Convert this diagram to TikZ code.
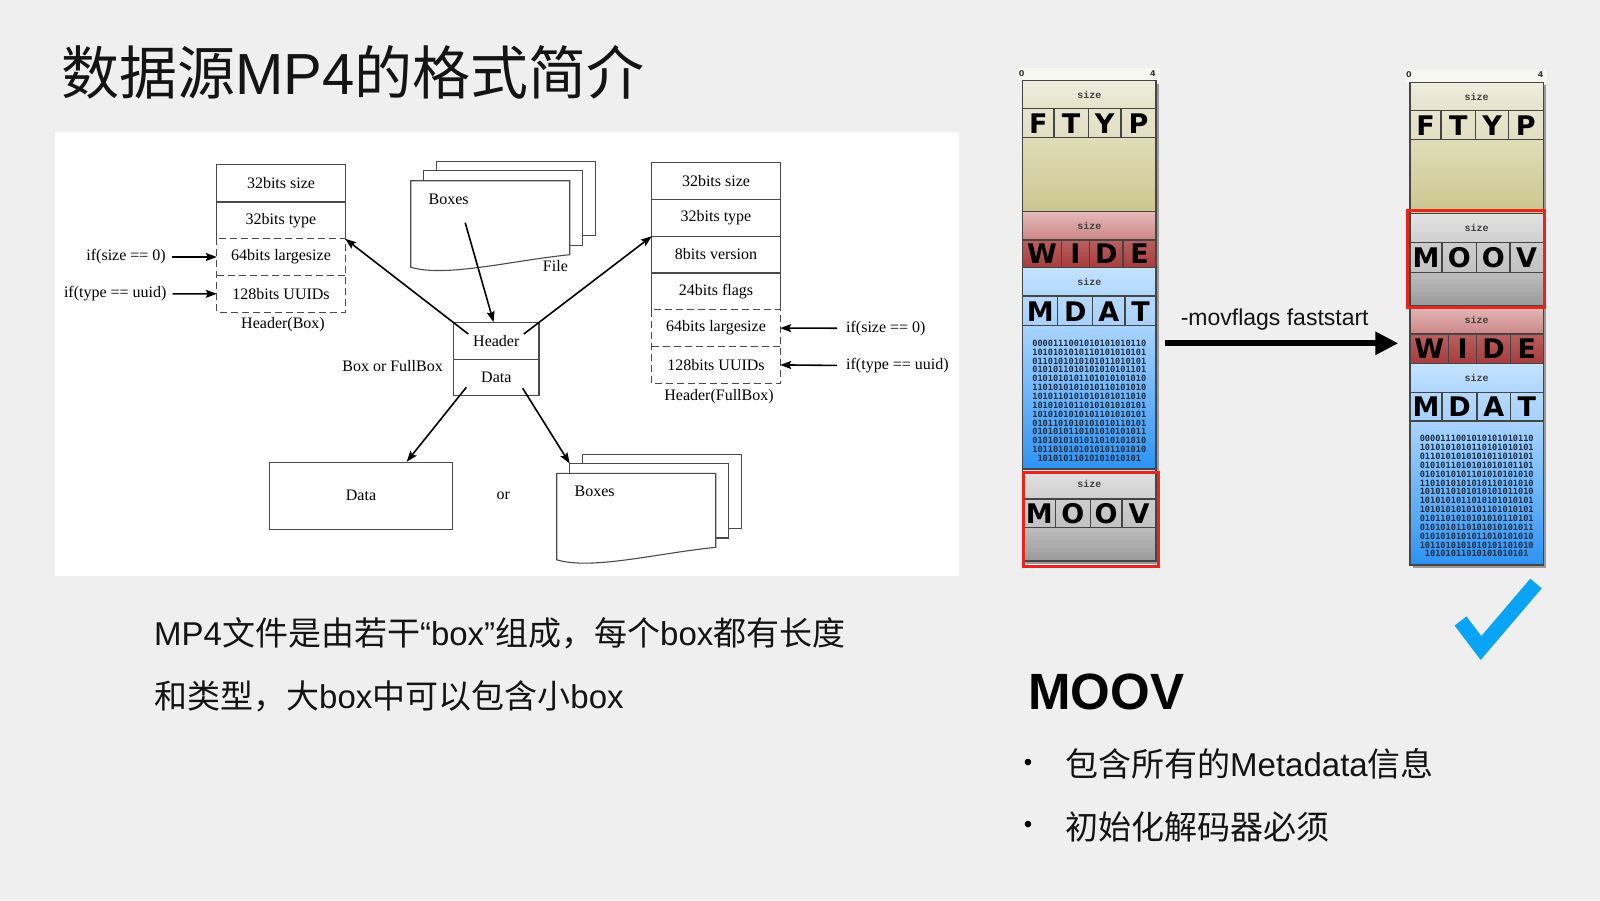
\documentclass[tikz,border=0pt]{standalone}
\usepackage{fontspec}
\setmainfont{Liberation Sans}
\newfontfamily\cjk{Noto Sans CJK SC}
\newfontfamily\dgserif{Liberation Serif}
\newfontfamily\cellfont{DejaVu Sans}
\newfontfamily\sizefont{Liberation Mono}
\newfontfamily\bitfont{DejaVu Sans Mono}
\usetikzlibrary{arrows.meta,calc}

\definecolor{slidebg}{HTML}{EFEFEF}
\definecolor{inkline}{HTML}{4A4A4A}
\definecolor{framegray}{HTML}{454545}
\definecolor{shadowgray}{HTML}{9A9A9A}
\definecolor{stripwhite}{HTML}{F7F7F2}
\definecolor{redmark}{HTML}{E8261C}
\definecolor{tickblue}{HTML}{0AA4F6}
\definecolor{bitink}{HTML}{1B2A3E}
% block colour schemes: size row top/bottom, letter row, body top/bottom
\definecolor{ftypa}{HTML}{EFEEDF}\definecolor{ftypb}{HTML}{E4E2C9}
\definecolor{ftypc}{HTML}{E2DFC3}\definecolor{ftypd}{HTML}{E0DDB9}
\definecolor{ftype}{HTML}{CBC68F}
\definecolor{widea}{HTML}{E6B9B9}\definecolor{wideb}{HTML}{CC8686}
\definecolor{widec}{HTML}{A83C3C}\definecolor{wided}{HTML}{A83C3C}
\definecolor{widee}{HTML}{A83C3C}
\definecolor{mdata}{HTML}{C4E3FF}\definecolor{mdatb}{HTML}{B0D7FF}
\definecolor{mdatc}{HTML}{A6D1FC}\definecolor{mdatd}{HTML}{A9D4FF}
\definecolor{mdate}{HTML}{2C93F4}
\definecolor{moova}{HTML}{E2E2E2}\definecolor{moovb}{HTML}{CFCFCF}
\definecolor{moovc}{HTML}{C2C2C2}\definecolor{moovd}{HTML}{BDBDBD}
\definecolor{moove}{HTML}{9A9A9A}

\newcommand\pxsize[1]{\fontsize{#1}{#1}\selectfont}
\newcommand\zh[1]{{\cjk #1}}

\newcommand\mdatbits{0000111001010101010110\\1010101010110101010101\\
0110101010101011010101\\0101011010101010101101\\0101010101101010101010\\
1101010101010110101010\\1010110101010101011010\\1010101011010101010101\\
1010101010101101010101\\0101101010101010110101\\0101010110101010101011\\
0101010101011010101010\\1011010101010101101010\\10101011010101010101}

\tikzset{
  dgtext/.style={font=\dgserif\pxsize{16}, text=black, inner sep=0pt},
  hcell/.style={dgtext, minimum width=128pt, minimum height=36.8pt},
  hdcell/.style={dgtext, draw=inkline, line width=1.1pt, minimum width=85.4pt, minimum height=36.5pt},
  boxline/.style={draw=inkline, line width=1.1pt},
  arr/.style={draw=black, line width=1.6pt, -{Stealth[length=11pt,width=8pt,inset=2pt]}},
  sizetag/.style={font=\sizefont\bfseries\pxsize{10}, text=black!75, inner sep=0pt},
  lettercell/.style={font=\cellfont\bfseries\pxsize{27}, text=black, inner sep=0pt},
  bittext/.style={font=\bitfont\bfseries\fontsize{8.6}{8.85}\selectfont, text=bitink, align=center, inner sep=0pt},
  ruler/.style={font=\cellfont\bfseries\pxsize{8}, text=black!80, inner sep=0pt},
  slidetext/.style={font=\pxsize{33}, text=black!92, inner sep=0pt, anchor=west},
  blockedge/.style={draw=framegray, line width=1.2pt},
}

% one stack of pages: front page with a wavy lower edge and two pages behind it
\newcommand\pagestack[3]{%
  \begin{scope}[shift={(#1,#2)}]
    \draw[boxline, fill=white] (25.5,-19) rectangle ++(159.5,74);
    \draw[boxline, fill=white] (13,-9.8) rectangle ++(159,74.5);
    \coordinate (#3-mid) at (13,-9.8);
    \draw[boxline, fill=white] (0,0) -- (159,0) -- (159,74)
      .. controls (100,80) and (35,97) .. (0,86.5) -- cycle;
    \node[dgtext] (#3) at (38,18.5) {Boxes};
  \end{scope}}

% one box of the file layout: size row, four letter cells, optional body
% #1 name, #2 left x, #3 top, #4 size row bottom, #5 letter row bottom,
% #6 block bottom, #7 colour scheme, #8 cells as from/to/letter
\newcommand\mpblock[8]{%
  \begin{scope}[shift={(#2,0)}]
    \path[blockedge, top color=#7a, bottom color=#7b] (0,#3) rectangle (133.3,#4);
    \node[sizetag] (#1-size) at (66.65,{(#3+#4)/2}) {size};
    \foreach \a/\b/\l [count=\i] in {#8}{
      \path[blockedge, top color=#7c!82!white, bottom color=#7c] (\a*133.3,#4) rectangle (\b*133.3,#5);
      \node[lettercell] (#1-\i) at ({(\a+\b)*66.65},{(#4+#5)/2+0.5}) {\l};
    }
    \ifdim #6pt>#5pt
      \path[blockedge, top color=#7d, bottom color=#7e] (0,#5) rectangle (133.3,#6);
    \fi
  \end{scope}}

\begin{document}
\begin{tikzpicture}[x=1pt,y=-1pt]
\useasboundingbox (0,0) rectangle (1600,900);
\fill[slidebg] (0,0) rectangle (1600,900);

% title
\node[anchor=west, inner sep=0pt, font=\pxsize{58}, text=black!92] (title) at (61,72.5)
  {\zh{数据源}MP4\zh{的格式简介}};

% ---------- box structure diagram ----------
\fill[white] (55,132) rectangle (959,576);

% Header(Box)
\node[hcell] (lb1) at (281,183.4) {32bits size};
\node[hcell] (lb2) at (281,220.2) {32bits type};
\node[hcell] (lb3) at (281,257.0) {64bits largesize};
\node[hcell] (lb4) at (281,293.8) {128bits UUIDs};
\draw[boxline] (lb2.south west) |- (lb1.north east) -- (lb2.south east);
\draw[boxline] (lb1.south west) -- (lb1.south east);
\draw[boxline, dash pattern=on 7pt off 4pt] (lb3.north west) rectangle (lb4.south east);
\draw[boxline, dash pattern=on 7pt off 4pt] (lb3.south west) -- (lb3.south east);
\node[dgtext] (hbcap) at (283,325) {Header(Box)};

\node[dgtext, anchor=east] (ifszL) at (166,257) {if(size == 0)};
\node[dgtext, anchor=east] (iftyL) at (166.7,294) {if(type == uuid)};
\draw[arr, shorten <=6pt] (ifszL) -- (lb3.west);
\draw[arr, shorten <=6pt] (iftyL) -- (lb4.west);

% Header(FullBox)
\node[hcell] (rb1) at (716,180.7) {32bits size};
\node[hcell] (rb2) at (716,217.6) {32bits type};
\node[hcell] (rb3) at (716,254.4) {8bits version};
\node[hcell] (rb4) at (716,291.2) {24bits flags};
\node[hcell] (rb5) at (716,328.1) {64bits largesize};
\node[hcell] (rb6) at (716,364.9) {128bits UUIDs};
\draw[boxline] (rb4.south west) |- (rb1.north east) -- (rb4.south east);
\draw[boxline] (rb1.south west) -- (rb1.south east);
\draw[boxline] (rb2.south west) -- (rb2.south east);
\draw[boxline] (rb3.south west) -- (rb3.south east);
\draw[boxline, dash pattern=on 7pt off 4pt] (rb5.north west) rectangle (rb6.south east);
\draw[boxline, dash pattern=on 7pt off 4pt] (rb5.south west) -- (rb5.south east);
\node[dgtext] (hfcap) at (719,397) {Header(FullBox)};

\node[dgtext, anchor=west] (ifszR) at (846,328.3) {if(size == 0)};
\node[dgtext, anchor=west] (iftyR) at (846,366) {if(type == uuid)};
\draw[arr, shorten <=9pt] (ifszR) -- (rb5.east);
\draw[arr, shorten <=9pt] (iftyR) -- (rb6.east);

% file made of boxes
\pagestack{410.7}{180.7}{stackA}
\node[dgtext] (filecap) at (555.4,266) {File};

% a box: header and data
\node[hdcell] (hd1) at (496.3,341) {Header};
\node[hdcell] (hd2) at (496.3,377.5) {Data};
\node[dgtext, anchor=east] (boxcap) at (443,366) {Box or FullBox};

% its data is plain data or further boxes
\node[dgtext, boxline, minimum width=183.4pt, minimum height=67pt] (dbox) at (361,495.8) {Data};
\node[dgtext] (orlbl) at (503.3,496) {or};
\pagestack{556.7}{473.3}{stackB}

\coordinate (fileout) at (465.2,222.7);
\coordinate (hdleft) at (468.3,334);
\coordinate (hdright) at (523.8,334);
\coordinate (dleft) at (466.3,387.3);
\coordinate (dright) at (522.7,388.3);
\draw[arr] (fileout) -- ($(hd1.north)+(-2.7,0)$);
\draw[arr] (hdleft) -- (lb2.south east);
\draw[arr] (hdright) -- (rb2.south west);
\draw[arr] (dleft) -- ($(dbox.north)+(45.7,0)$);
\draw[arr] (dright) -- (stackB-mid);

% ---------- file layout before ----------
\fill[stripwhite] (1018,68) rectangle (1160,81);
\node[ruler] (rulL0) at (1021.7,73.7) {0};
\node[ruler] (rulL4) at (1153,73.7) {4};
\fill[shadowgray] (1025.7,83.7) rectangle (1159,564);
\mpblock{ftypL}{1022.7}{80.7}{108.3}{137.3}{211.7}{ftyp}{0/.235/F,.235/.492/T,.492/.737/Y,.737/1/P}
\mpblock{wideL}{1022.7}{211.7}{240}{267.3}{267.3}{wide}{0/.288/W,.288/.503/I,.503/.752/D,.752/1/E}
\mpblock{mdatL}{1022.7}{267.3}{296}{325.7}{469}{mdat}{0/.263/M,.263/.525/D,.525/.767/A,.767/1/T}
\node[bittext] (bitsL) at (1089.3,400.8) {\mdatbits};
\mpblock{moovL}{1022.7}{469}{499}{527.7}{561}{moov}{0/.248/M,.248/.506/O,.506/.745/O,.745/1/V}
\draw[redmark, line width=3pt] (1023.3,472) rectangle (1158.3,566.3);

% ---------- faststart ----------
\node[font=\pxsize{23}, text=black!92, inner sep=0pt] (flaglbl) at (1274.7,320) {-movflags faststart};
\coordinate (flowA) at (1165,343.3);
\coordinate (flowB) at (1398.3,343.3);
\draw[line width=6pt, -{Triangle[length=23pt,width=22pt]}] (flowA) -- (flowB);

% ---------- file layout after ----------
\fill[stripwhite] (1405,70) rectangle (1547,83);
\node[ruler] (rulR0) at (1409,75) {0};
\node[ruler] (rulR4) at (1540.7,75) {4};
\fill[shadowgray] (1413,85.3) rectangle (1546.3,568);
\mpblock{ftypR}{1410}{82.3}{110.7}{139.3}{213.3}{ftyp}{0/.233/F,.233/.493/T,.493/.738/Y,.738/1/P}
\mpblock{moovR}{1410}{213.3}{242.3}{272.3}{306}{moov}{0/.24/M,.24/.5/O,.5/.75/O,.75/1/V}
\mpblock{wideR}{1410}{306}{334}{363.3}{363.3}{wide}{0/.288/W,.288/.5/I,.5/.753/D,.753/1/E}
\mpblock{mdatR}{1410}{363.3}{392.3}{421}{565}{mdat}{0/.24/M,.24/.503/D,.503/.753/A,.753/1/T}
\node[bittext] (bitsR) at (1476.7,496.2) {\mdatbits};
\draw[redmark, line width=3pt] (1407.3,210.7) rectangle (1544.3,307);

% check mark
\draw[tickblue, line width=15pt, line join=miter] (1460.5,621) -- (1481,648) -- (1536,583.5);

% ---------- notes ----------
\node[slidetext] (note1) at (154,633)
  {MP4\zh{文件是由若干}“box”\zh{组成，每个}box\zh{都有长度}};
\node[slidetext] (note2) at (154,696)
  {\zh{和类型，大}box\zh{中可以包含小}box};

\node[anchor=west, inner sep=0pt, font=\bfseries\pxsize{51}, text=black] (moovhead) at (1028,692) {MOOV};
\node[font=\pxsize{24}, inner sep=0pt] (dot1) at (1028,765) {•};
\node[slidetext] (item1) at (1065,764) {\zh{包含所有的}Metadata\zh{信息}};
\node[font=\pxsize{24}, inner sep=0pt] (dot2) at (1028,827) {•};
\node[slidetext] (item2) at (1065,826.5) {\zh{初始化解码器必须}};
\end{tikzpicture}
\end{document}
